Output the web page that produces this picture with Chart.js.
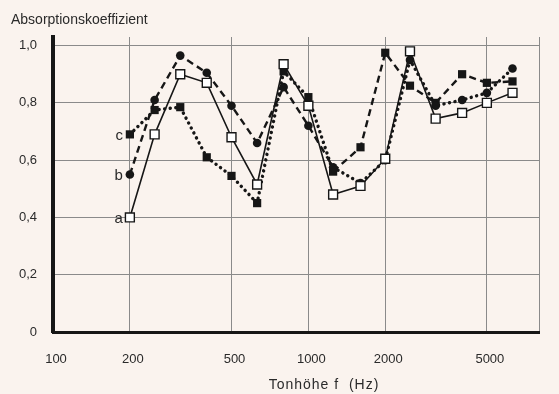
<!DOCTYPE html>
<html>
<head>
<meta charset="utf-8">
<script src="https://cdn.jsdelivr.net/npm/chart.js"></script>
<style>
  html, body { margin: 0; padding: 0; background: #faf3ee; }
  #wrap { width: 559px; height: 394px; }
</style>
</head>
<body>
<div id="wrap"><canvas id="chart" width="559" height="394"></canvas></div>
<script>
const freqs = [200, 250, 315, 400, 500, 630, 800, 1000, 1250, 1600, 2000, 2500, 3150, 4000, 5000, 6300];
const seriesA = [0.40, 0.69, 0.90, 0.87, 0.68, 0.515, 0.935, 0.79, 0.48, 0.51, 0.605, 0.98, 0.745, 0.765, 0.80, 0.835];
const seriesB = [0.55, 0.81, 0.965, 0.905, 0.79, 0.66, 0.855, 0.72, 0.575, 0.52, 0.60, 0.95, 0.79, 0.81, 0.835, 0.92];
const seriesC = [0.69, 0.775, 0.785, 0.61, 0.545, 0.45, 0.91, 0.82, 0.56, 0.645, 0.975, 0.86, 0.80, 0.90, 0.87, 0.875];
const seriesNames = ["a", "b", "c"];
const xTicks = [100, 200, 500, 1000, 2000, 5000, 8000];
const xTickLabels = ["100", "200", "500", "1000", "2000", "5000", ""];
const yTicks = [0, 0.2, 0.4, 0.6, 0.8, 1.0];
const yTickLabels = ["0", "0,2", "0,4", "0,6", "0,8", "1,0"];
const swapFrom = 1250; // ab hier tauschen die Linienarten

const ink = "#161616";
const font = "'Liberation Sans', Arial, sans-serif";

const toPts = vals => vals.map((v, i) => ({ x: freqs[i], y: v }));
const dashed = [7, 4.5];
const dotted = [0.1, 5.5];

const labelPlugin = {
  id: "labels",
  afterDraw(chart) {
    const ctx = chart.ctx;
    const xs = chart.scales.x, ys = chart.scales.y;
    ctx.save();
    ctx.fillStyle = "#2a2a2a";
    ctx.font = "14px " + font;
    ctx.textBaseline = "middle";
    ctx.textAlign = "left";
    ctx.fillText("Absorptionskoeffizient", 11, 20);
    ctx.textAlign = "center";
    ctx.letterSpacing = "1px";
    ctx.fillText("Tonhöhe f  (Hz)", 324, 385);
    ctx.letterSpacing = "0px";
    // Kurvenbezeichnungen links vom ersten Punkt
    ctx.font = "15px " + font;
    ctx.textAlign = "right";
    const firsts = [seriesA[0], seriesB[0], seriesC[0]];
    firsts.forEach((v, i) => {
      ctx.fillText(seriesNames[i], xs.getPixelForValue(freqs[0]) - 7, ys.getPixelForValue(v) + 1);
    });
    ctx.restore();
  }
};

new Chart(document.getElementById("chart"), {
  type: "line",
  data: {
    datasets: [
      {
        label: seriesNames[0], data: toPts(seriesA),
        borderColor: ink, borderWidth: 1.6,
        pointStyle: "rect", pointRadius: 6.3, pointBorderWidth: 1.4,
        pointBackgroundColor: "#ffffff", pointBorderColor: ink, order: 1
      },
      {
        label: seriesNames[1], data: toPts(seriesB),
        borderColor: ink, borderCapStyle: "round",
        segment: {
          borderDash: c => c.p0.parsed.x >= swapFrom ? dotted : dashed,
          borderWidth: c => c.p0.parsed.x >= swapFrom ? 3.4 : 2.4,
          borderCapStyle: c => c.p0.parsed.x >= swapFrom ? "round" : "butt"
        },
        pointStyle: "circle", pointRadius: 4.3, pointBorderWidth: 0,
        pointBackgroundColor: ink, order: 2
      },
      {
        label: seriesNames[2], data: toPts(seriesC),
        borderColor: ink, borderCapStyle: "round",
        segment: {
          borderDash: c => c.p0.parsed.x >= swapFrom ? dashed : dotted,
          borderWidth: c => c.p0.parsed.x >= swapFrom ? 2.4 : 3.4,
          borderCapStyle: c => c.p0.parsed.x >= swapFrom ? "butt" : "round"
        },
        pointStyle: "rect", pointRadius: 5.8, pointBorderWidth: 0,
        pointBackgroundColor: ink, order: 3
      }
    ]
  },
  options: {
    responsive: false,
    animation: false,
    layout: { padding: { top: 37, right: 5, left: 0, bottom: 0 } },
    plugins: { legend: { display: false }, tooltip: { enabled: false } },
    scales: {
      x: {
        type: "logarithmic", min: 100, max: 8000,
        afterBuildTicks: s => { s.ticks = xTicks.map(v => ({ value: v })); },
        afterFit: s => { s.height = 62; },
        grid: { color: "#8a8a8a", lineWidth: 1, drawTicks: false },
        border: { color: ink, width: 3 },
        ticks: {
          autoSkip: false, maxRotation: 0, padding: 20, labelOffset: 3,
          color: "#2a2a2a", font: { family: font, size: 13 },
          callback: (v, i) => xTickLabels[i]
        }
      },
      y: {
        min: 0, max: 1.03,
        afterBuildTicks: s => { s.ticks = yTicks.map(v => ({ value: v })); },
        afterFit: s => { s.width = 53; },
        grid: { color: "#8a8a8a", lineWidth: 1, drawTicks: false },
        border: { color: ink, width: 4 },
        ticks: {
          padding: 16, color: "#2a2a2a", font: { family: font, size: 13 },
          callback: (v, i) => yTickLabels[i]
        }
      }
    }
  },
  plugins: [labelPlugin]
});
</script>
</body>
</html>
